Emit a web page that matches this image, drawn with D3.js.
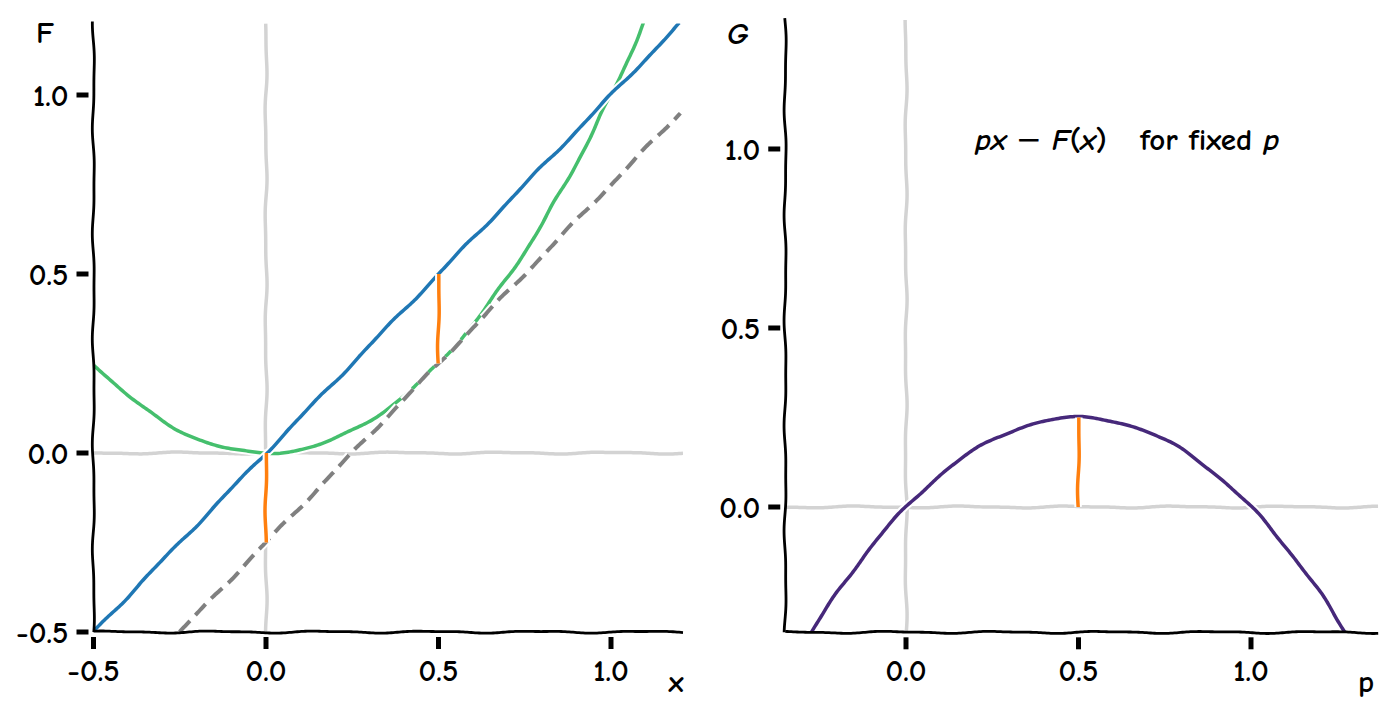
<!DOCTYPE html>
<html>
<head>
<meta charset="utf-8">
<script src="https://cdn.jsdelivr.net/npm/d3@7"></script>
<style>
  body { margin: 0; background: #fff; }
  text { font-family: "Comic Neue", "Comic Sans MS", "DejaVu Sans", sans-serif; fill: #000; font-weight: bold; }
</style>
</head>
<body>
<svg id="chart" width="1389" height="718"></svg>
<script>
// values
let xGrid   = [-0.5, -0.4, -0.3, -0.2, -0.1, 0.0, 0.1, 0.2, 0.3, 0.4, 0.5, 0.6, 0.7, 0.8, 0.9, 1.0, 1.1, 1.2];
let fVals   = [0.25, 0.16, 0.09, 0.04, 0.01, 0.0, 0.01, 0.04, 0.09, 0.16, 0.25, 0.36, 0.49, 0.64, 0.81, 1.0, 1.21, 1.44];
let pxVals  = [-0.5, -0.4, -0.3, -0.2, -0.1, 0.0, 0.1, 0.2, 0.3, 0.4, 0.5, 0.6, 0.7, 0.8, 0.9, 1.0, 1.1, 1.2];
let tanX    = [-0.25, 1.2];
let tanY    = [-0.5, 0.95];
let gapsLeft = [{x: 0.5, y0: 0.25, y1: 0.5}, {x: 0.0, y0: -0.25, y1: 0.0}];

let pGrid   = [-0.3, -0.2, -0.1, 0.0, 0.1, 0.2, 0.3, 0.4, 0.5, 0.6, 0.7, 0.8, 0.9, 1.0, 1.1, 1.2, 1.3];
let gVals   = [-0.39, -0.24, -0.11, 0.0, 0.09, 0.16, 0.21, 0.24, 0.25, 0.24, 0.21, 0.16, 0.09, 0.0, -0.11, -0.24, -0.39];
let gapsRight = [{x: 0.5, y0: 0.0, y1: 0.25}];

let ticksLeftX  = [-0.5, 0.0, 0.5, 1.0];
let ticksLeftY  = [-0.5, 0.0, 0.5, 1.0];
let ticksRightX = [0.0, 0.5, 1.0];
let ticksRightY = [0.0, 0.5, 1.0];

let svg = d3.select("#chart");

// hidden path used to sample smooth curves
let probe = svg.append("path").attr("fill", "none").attr("stroke", "none");

function densify(pts, curve) {
    if (pts.length < 3) {
        let a = pts[0], b = pts[1];
        let n = Math.max(2, Math.ceil(Math.hypot(b[0] - a[0], b[1] - a[1])));
        let out = [];
        for (let i = 0; i <= n; i++) out.push([a[0] + (b[0] - a[0]) * i / n, a[1] + (b[1] - a[1]) * i / n]);
        return out;
    }
    probe.attr("d", d3.line().curve(curve)(pts));
    let node = probe.node();
    let len = node.getTotalLength();
    let out = [];
    for (let s = 0; s <= len; s += 1) {
        let p = node.getPointAtLength(s);
        out.push([p.x, p.y]);
    }
    let p = node.getPointAtLength(len);
    out.push([p.x, p.y]);
    return out;
}

// xkcd-ish wobble along the path
function sketch(pts, seed, amp) {
    let cum = [0];
    for (let i = 1; i < pts.length; i++)
        cum.push(cum[i - 1] + Math.hypot(pts[i][0] - pts[i - 1][0], pts[i][1] - pts[i - 1][1]));
    let total = cum[cum.length - 1];
    let n = Math.max(2, Math.ceil(total / 2));
    let out = [];
    let j = 0;
    for (let k = 0; k <= n; k++) {
        let s = total * k / n;
        while (j < pts.length - 2 && cum[j + 1] < s) j++;
        let seg = (cum[j + 1] - cum[j]) || 1;
        let t = (s - cum[j]) / seg;
        let x = pts[j][0] + t * (pts[j + 1][0] - pts[j][0]);
        let y = pts[j][1] + t * (pts[j + 1][1] - pts[j][1]);
        let dx = (pts[j + 1][0] - pts[j][0]) / seg;
        let dy = (pts[j + 1][1] - pts[j][1]) / seg;
        let w = amp * (0.7 * Math.sin(s / 17 + seed) + 0.3 * Math.sin(s / 8.3 + seed * 1.7));
        out.push([x - dy * w, y + dx * w]);
    }
    return out;
}

let line = d3.line();

function drawLine(g, pts, opt) {
    let d = line(sketch(densify(pts, d3.curveNatural), opt.seed, opt.amp || 1.1));
    if (opt.outline !== false) {
        g.append("path").attr("d", d)
            .attr("fill", "none").attr("stroke", "#fff")
            .attr("stroke-width", opt.width + 4)
            .attr("stroke-dasharray", opt.dash || null);
    }
    g.append("path").attr("d", d)
        .attr("fill", "none").attr("stroke", opt.color)
        .attr("stroke-width", opt.width)
        .attr("stroke-dasharray", opt.dash || null)
        .attr("stroke-linejoin", "round");
}

function panel(cfg) {
    let x = d3.scaleLinear().domain(cfg.xDomain).range(cfg.xRange);
    let y = d3.scaleLinear().domain(cfg.yDomain).range(cfg.yRange);
    let g = svg.append("g");

    let clipId = "clip" + cfg.id;
    svg.append("clipPath").attr("id", clipId)
        .append("rect")
        .attr("x", cfg.xRange[0]).attr("y", cfg.yRange[1])
        .attr("width", cfg.xRange[1] - cfg.xRange[0] + 3)
        .attr("height", cfg.yRange[0] - cfg.yRange[1]);

    let plot = g.append("g").attr("clip-path", `url(#${clipId})`);

    // zero lines
    drawLine(plot, [[x(cfg.xDomain[0]), y(0)], [x(cfg.xDomain[1]) + 3, y(0)]], {color: "#d3d3d3", width: 3.5, seed: 11 + cfg.id, outline: false});
    drawLine(plot, [[x(0), y(cfg.yDomain[0])], [x(0), y(cfg.yDomain[1])]], {color: "#d3d3d3", width: 3.5, seed: 5 + cfg.id, outline: false});

    cfg.series.forEach((s, i) => {
        let pts = s.xs.map((v, k) => [x(v), y(s.ys[k])]);
        drawLine(plot, pts, {color: s.color, width: s.width, dash: s.dash, seed: i * 2.1 + cfg.id});
    });

    cfg.gaps.forEach((gp, i) => {
        drawLine(plot, [[x(gp.x), y(gp.y1)], [x(gp.x), y(gp.y0)]], {color: "#ff7f0e", width: 3.5, seed: 3.3 + i, amp: 1.0});
    });

    // spines
    let x0 = cfg.xRange[0], y0 = cfg.yRange[0];
    drawLine(g, [[x0, cfg.yRange[1] - 2], [x0, y0]], {color: "#000", width: 2.8, seed: 7 + cfg.id, outline: false, amp: 1.2});
    drawLine(g, [[x0, y0], [cfg.xRange[1] + 3, y0]], {color: "#000", width: 2.8, seed: 9 + cfg.id, outline: false, amp: 1.2});

    // y ticks
    cfg.yTicks.forEach(t => {
        g.append("line").attr("x1", x0 - 17).attr("x2", x0 - 5)
            .attr("y1", y(t)).attr("y2", y(t))
            .attr("stroke", "#000").attr("stroke-width", 5);
        g.append("text").attr("x", x0 - 25).attr("y", y(t) + 11)
            .attr("text-anchor", "end").attr("font-size", 31)
            .text(t.toFixed(1));
    });
    // x ticks
    cfg.xTicks.forEach(t => {
        g.append("line").attr("x1", x(t)).attr("x2", x(t))
            .attr("y1", y0 + 5).attr("y2", y0 + 17)
            .attr("stroke", "#000").attr("stroke-width", 5);
        g.append("text").attr("x", x(t)).attr("y", y0 + 49)
            .attr("text-anchor", "middle").attr("font-size", 31)
            .text(t.toFixed(1));
    });
    return {x, y, g};
}

let left = panel({
    id: 1,
    xDomain: [-0.5, 1.2], xRange: [93.5, 680],
    yDomain: [-0.5, 1.2], yRange: [632, 23.4],
    xTicks: ticksLeftX, yTicks: ticksLeftY,
    series: [
        {xs: xGrid, ys: fVals, color: "#45bf6d", width: 3.5},
        {xs: tanX, ys: tanY, color: "#808080", width: 4, dash: "15,8"},
        {xs: xGrid, ys: pxVals, color: "#1f77b4", width: 3.5}
    ],
    gaps: gapsLeft
});

let right = panel({
    id: 2,
    xDomain: [-0.35, 1.36], xRange: [785.25, 1375.2],
    yDomain: [-0.35, 1.36], yRange: [632.3, 20.1],
    xTicks: ticksRightX, yTicks: ticksRightY,
    series: [
        {xs: pGrid, ys: gVals, color: "#46287a", width: 3.5}
    ],
    gaps: gapsRight
});

// axis labels
svg.append("text").attr("x", 45).attr("y", 43).attr("text-anchor", "middle").attr("font-size", 31).text("F");
svg.append("text").attr("x", 738).attr("y", 44).attr("text-anchor", "middle").attr("font-size", 31).attr("font-style", "italic").text("G");
svg.append("text").attr("x", 676).attr("y", 692).attr("text-anchor", "middle").attr("font-size", 31).text("x");
svg.append("text").attr("x", 1366).attr("y", 692).attr("text-anchor", "middle").attr("font-size", 31).text("p");

// annotation
let note = svg.append("text").attr("x", 975).attr("y", 150).attr("font-size", 31)
    .attr("xml:space", "preserve");
note.append("tspan").attr("font-style", "italic").text("px");
note.append("tspan").attr("font-family", "DejaVu Sans").attr("font-weight", "normal").text(" \u2212 ");
note.append("tspan").attr("font-style", "italic").text("F");
note.append("tspan").text("(");
note.append("tspan").attr("font-style", "italic").text("x");
note.append("tspan").text(")\u00a0\u00a0\u00a0for fixed ");
note.append("tspan").attr("font-style", "italic").text("p");
</script>
</body>
</html>
